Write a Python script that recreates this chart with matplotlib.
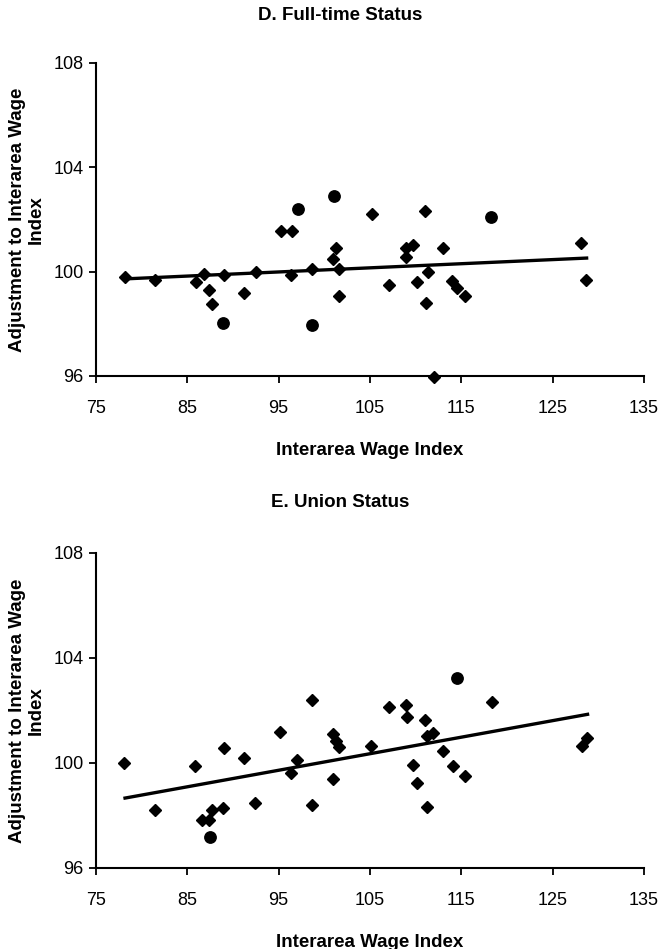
import matplotlib
matplotlib.use("Agg")
import matplotlib.pyplot as plt

plt.rcParams['font.family'] = ['Liberation Sans', 'DejaVu Sans']

# ---- Panel D: Full-time Status ----
d_diamond_x = [78.2, 81.5, 85.9, 86.8, 87.4, 87.7, 89.0, 91.2, 92.5, 95.25, 96.5, 96.4,
               98.7, 101.3, 101.0, 101.6, 101.6, 105.2, 107.1, 111.0, 108.9, 109.7,
               108.9, 113.0, 111.3, 110.2, 114.0, 114.5, 115.35, 111.1, 112.0, 128.1, 128.7]
d_diamond_y = [99.78, 99.68, 99.59, 99.91, 99.30, 98.76, 99.87, 99.17, 100.0, 101.57, 101.57, 99.87,
               100.09, 100.89, 100.49, 100.08, 99.08, 102.2, 99.48, 102.31, 100.91, 101.01,
               100.57, 100.89, 100.0, 99.59, 99.63, 99.37, 99.05, 98.79, 95.98, 101.08, 99.68]
d_circle_x = [88.9, 97.1, 98.7, 101.1, 118.3]
d_circle_y = [98.03, 102.38, 97.97, 102.89, 102.08]
d_line_x = [78.2, 128.9]
d_line_y = [99.72, 100.52]

# ---- Panel E: Union Status ----
e_diamond_x = [78.1, 81.5, 85.8, 86.65, 87.4, 87.7, 88.9, 89.0, 91.2, 92.4, 95.1, 96.3,
               97.05, 98.65, 98.65, 100.95, 101.3, 101.6, 100.95, 105.15, 107.05, 108.9,
               109.0, 111.0, 111.25, 111.9, 112.97, 118.35, 109.7, 114.1, 115.4, 110.2,
               111.2, 128.2, 128.8]
e_diamond_y = [100.0, 98.2, 99.9, 97.81, 97.81, 98.21, 98.27, 100.58, 100.19, 98.48, 101.19, 99.6,
               100.1, 102.41, 98.39, 101.1, 100.83, 100.61, 99.39, 100.63, 102.13, 102.22,
               101.75, 101.62, 101.04, 101.14, 100.44, 102.31, 99.92, 99.9, 99.51, 99.22,
               98.33, 100.63, 100.93]
e_circle_x = [87.5, 114.5]
e_circle_y = [97.19, 103.22]
e_line_x = [78.0, 129.0]
e_line_y = [98.65, 101.86]

x_ticks = [75, 85, 95, 105, 115, 125, 135]
y_ticks = [96, 100, 104, 108]
titles = ["D. Full-time Status", "E. Union Status"]
xlabel = "Interarea Wage Index"
ylabel = "Adjustment to Interarea Wage\nIndex"

W, H = 662, 949
fig = plt.figure(figsize=(W / 100, H / 100), dpi=100)

def box(left, top, right, bottom):
    return [left / W, 1 - bottom / H, (right - left) / W, (bottom - top) / H]

panels = [
    (box(96, 62.7, 644, 376), d_diamond_x, d_diamond_y, d_circle_x, d_circle_y, d_line_x, d_line_y, titles[0], 15),
    (box(96, 552.7, 644, 868), e_diamond_x, e_diamond_y, e_circle_x, e_circle_y, e_line_x, e_line_y, titles[1], 503),
]

for rect, dx, dy, cx, cy, lx, ly, title, ty in panels:
    ax = fig.add_axes(rect)
    ax.plot(lx, ly, color='black', lw=2.4, solid_capstyle='butt', zorder=2)
    ax.plot(dx, dy, linestyle='none', marker='D', ms=5.8, color='black', clip_on=False, zorder=3)
    ax.plot(cx, cy, linestyle='none', marker='o', ms=8.2, color='black', clip_on=False, zorder=3)
    ax.set_xlim(75, 135)
    ax.set_ylim(96, 108)
    ax.set_xticks(x_ticks)
    ax.set_yticks(y_ticks)
    for s in ['top', 'right']:
        ax.spines[s].set_visible(False)
    for s in ['left', 'bottom']:
        ax.spines[s].set_linewidth(1.5)
        ax.spines[s].set_color('black')
    ax.tick_params(axis='both', direction='out', length=5, width=1.3, labelsize=13, colors='black')
    ax.tick_params(axis='x', pad=12)
    ax.tick_params(axis='y', pad=4)
    ax.set_xlabel(xlabel, fontsize=13.5, fontweight='bold', labelpad=18)
    ax.set_ylabel(ylabel, fontsize=13.5, fontweight='bold', labelpad=6, linespacing=1.15)
    fig.text(340 / W, 1 - ty / H, title, ha='center', va='center', fontsize=13.5, fontweight='bold')

fig.savefig("out.png", dpi=100)
